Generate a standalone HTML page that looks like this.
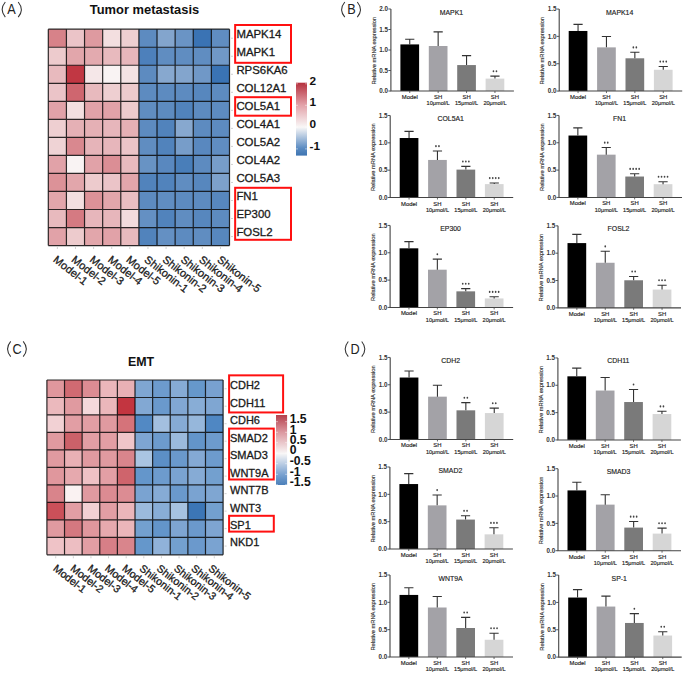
<!DOCTYPE html>
<html><head><meta charset="utf-8"><title>Figure</title>
<style>
html,body{margin:0;padding:0;background:#fff;}
body{width:685px;height:675px;overflow:hidden;}
svg{display:block;font-family:"Liberation Sans", sans-serif;}
</style></head><body>
<svg width="685" height="675" viewBox="0 0 685 675">
<rect width="685" height="675" fill="#fff"/>
<rect x="48.30" y="29.20" width="18.12" height="18.03" fill="#d78289"/>
<rect x="66.42" y="29.20" width="18.12" height="18.03" fill="#ebc4c8"/>
<rect x="84.54" y="29.20" width="18.12" height="18.03" fill="#de9aa0"/>
<rect x="102.66" y="29.20" width="18.12" height="18.03" fill="#f3dfe0"/>
<rect x="120.78" y="29.20" width="18.12" height="18.03" fill="#eecfd1"/>
<rect x="138.90" y="29.20" width="18.12" height="18.03" fill="#5d8bc0"/>
<rect x="157.02" y="29.20" width="18.12" height="18.03" fill="#83a5cd"/>
<rect x="175.14" y="29.20" width="18.12" height="18.03" fill="#6a94c5"/>
<rect x="193.26" y="29.20" width="18.12" height="18.03" fill="#3a73b4"/>
<rect x="211.38" y="29.20" width="18.12" height="18.03" fill="#608dc1"/>
<rect x="48.30" y="47.23" width="18.12" height="18.03" fill="#edcbcd"/>
<rect x="66.42" y="47.23" width="18.12" height="18.03" fill="#e2a6ab"/>
<rect x="84.54" y="47.23" width="18.12" height="18.03" fill="#e3aaaf"/>
<rect x="102.66" y="47.23" width="18.12" height="18.03" fill="#e8babe"/>
<rect x="120.78" y="47.23" width="18.12" height="18.03" fill="#e7b6bb"/>
<rect x="138.90" y="47.23" width="18.12" height="18.03" fill="#4d80bb"/>
<rect x="157.02" y="47.23" width="18.12" height="18.03" fill="#608dc1"/>
<rect x="175.14" y="47.23" width="18.12" height="18.03" fill="#608dc1"/>
<rect x="193.26" y="47.23" width="18.12" height="18.03" fill="#608dc1"/>
<rect x="211.38" y="47.23" width="18.12" height="18.03" fill="#7098c7"/>
<rect x="48.30" y="65.26" width="18.12" height="18.03" fill="#e8babe"/>
<rect x="66.42" y="65.26" width="18.12" height="18.03" fill="#c13743"/>
<rect x="84.54" y="65.26" width="18.12" height="18.03" fill="#f5e7e8"/>
<rect x="102.66" y="65.26" width="18.12" height="18.03" fill="#f9f3f3"/>
<rect x="120.78" y="65.26" width="18.12" height="18.03" fill="#f4e3e4"/>
<rect x="138.90" y="65.26" width="18.12" height="18.03" fill="#5d8bc0"/>
<rect x="157.02" y="65.26" width="18.12" height="18.03" fill="#87a8cf"/>
<rect x="175.14" y="65.26" width="18.12" height="18.03" fill="#83a5cd"/>
<rect x="193.26" y="65.26" width="18.12" height="18.03" fill="#7098c7"/>
<rect x="211.38" y="65.26" width="18.12" height="18.03" fill="#3a73b4"/>
<rect x="48.30" y="83.29" width="18.12" height="18.03" fill="#ebc4c8"/>
<rect x="66.42" y="83.29" width="18.12" height="18.03" fill="#cf666f"/>
<rect x="84.54" y="83.29" width="18.12" height="18.03" fill="#e8babe"/>
<rect x="102.66" y="83.29" width="18.12" height="18.03" fill="#eecfd1"/>
<rect x="120.78" y="83.29" width="18.12" height="18.03" fill="#edcbcd"/>
<rect x="138.90" y="83.29" width="18.12" height="18.03" fill="#5d8bc0"/>
<rect x="157.02" y="83.29" width="18.12" height="18.03" fill="#5d8bc0"/>
<rect x="175.14" y="83.29" width="18.12" height="18.03" fill="#5d8bc0"/>
<rect x="193.26" y="83.29" width="18.12" height="18.03" fill="#5787be"/>
<rect x="211.38" y="83.29" width="18.12" height="18.03" fill="#5d8bc0"/>
<rect x="48.30" y="101.32" width="18.12" height="18.03" fill="#e1a2a8"/>
<rect x="66.42" y="101.32" width="18.12" height="18.03" fill="#f3dfe0"/>
<rect x="84.54" y="101.32" width="18.12" height="18.03" fill="#e1a2a8"/>
<rect x="102.66" y="101.32" width="18.12" height="18.03" fill="#e1a2a8"/>
<rect x="120.78" y="101.32" width="18.12" height="18.03" fill="#edcbcd"/>
<rect x="138.90" y="101.32" width="18.12" height="18.03" fill="#608dc1"/>
<rect x="157.02" y="101.32" width="18.12" height="18.03" fill="#5d8bc0"/>
<rect x="175.14" y="101.32" width="18.12" height="18.03" fill="#5183bc"/>
<rect x="193.26" y="101.32" width="18.12" height="18.03" fill="#5d8bc0"/>
<rect x="211.38" y="101.32" width="18.12" height="18.03" fill="#5d8bc0"/>
<rect x="48.30" y="119.35" width="18.12" height="18.03" fill="#eecfd1"/>
<rect x="66.42" y="119.35" width="18.12" height="18.03" fill="#e5b0b5"/>
<rect x="84.54" y="119.35" width="18.12" height="18.03" fill="#e5b0b5"/>
<rect x="102.66" y="119.35" width="18.12" height="18.03" fill="#e7b6bb"/>
<rect x="120.78" y="119.35" width="18.12" height="18.03" fill="#e5b0b5"/>
<rect x="138.90" y="119.35" width="18.12" height="18.03" fill="#5d8bc0"/>
<rect x="157.02" y="119.35" width="18.12" height="18.03" fill="#5183bc"/>
<rect x="175.14" y="119.35" width="18.12" height="18.03" fill="#87a8cf"/>
<rect x="193.26" y="119.35" width="18.12" height="18.03" fill="#5d8bc0"/>
<rect x="211.38" y="119.35" width="18.12" height="18.03" fill="#5d8bc0"/>
<rect x="48.30" y="137.38" width="18.12" height="18.03" fill="#efd3d5"/>
<rect x="66.42" y="137.38" width="18.12" height="18.03" fill="#d9888f"/>
<rect x="84.54" y="137.38" width="18.12" height="18.03" fill="#e6b4b9"/>
<rect x="102.66" y="137.38" width="18.12" height="18.03" fill="#e7b6bb"/>
<rect x="120.78" y="137.38" width="18.12" height="18.03" fill="#ebc4c8"/>
<rect x="138.90" y="137.38" width="18.12" height="18.03" fill="#608dc1"/>
<rect x="157.02" y="137.38" width="18.12" height="18.03" fill="#5183bc"/>
<rect x="175.14" y="137.38" width="18.12" height="18.03" fill="#779dc9"/>
<rect x="193.26" y="137.38" width="18.12" height="18.03" fill="#5988bf"/>
<rect x="211.38" y="137.38" width="18.12" height="18.03" fill="#608dc1"/>
<rect x="48.30" y="155.41" width="18.12" height="18.03" fill="#e1a2a8"/>
<rect x="66.42" y="155.41" width="18.12" height="18.03" fill="#f9f3f3"/>
<rect x="84.54" y="155.41" width="18.12" height="18.03" fill="#e1a2a8"/>
<rect x="102.66" y="155.41" width="18.12" height="18.03" fill="#db8e95"/>
<rect x="120.78" y="155.41" width="18.12" height="18.03" fill="#e8babe"/>
<rect x="138.90" y="155.41" width="18.12" height="18.03" fill="#6893c4"/>
<rect x="157.02" y="155.41" width="18.12" height="18.03" fill="#5988bf"/>
<rect x="175.14" y="155.41" width="18.12" height="18.03" fill="#497eb9"/>
<rect x="193.26" y="155.41" width="18.12" height="18.03" fill="#5d8bc0"/>
<rect x="211.38" y="155.41" width="18.12" height="18.03" fill="#779dc9"/>
<rect x="48.30" y="173.44" width="18.12" height="18.03" fill="#dc9298"/>
<rect x="66.42" y="173.44" width="18.12" height="18.03" fill="#e2a6ab"/>
<rect x="84.54" y="173.44" width="18.12" height="18.03" fill="#edcbcd"/>
<rect x="102.66" y="173.44" width="18.12" height="18.03" fill="#ebc4c8"/>
<rect x="120.78" y="173.44" width="18.12" height="18.03" fill="#e2a6ab"/>
<rect x="138.90" y="173.44" width="18.12" height="18.03" fill="#5183bc"/>
<rect x="157.02" y="173.44" width="18.12" height="18.03" fill="#5183bc"/>
<rect x="175.14" y="173.44" width="18.12" height="18.03" fill="#608dc1"/>
<rect x="193.26" y="173.44" width="18.12" height="18.03" fill="#5787be"/>
<rect x="211.38" y="173.44" width="18.12" height="18.03" fill="#7da1cb"/>
<rect x="48.30" y="191.47" width="18.12" height="18.03" fill="#e2a6ab"/>
<rect x="66.42" y="191.47" width="18.12" height="18.03" fill="#f3dfe0"/>
<rect x="84.54" y="191.47" width="18.12" height="18.03" fill="#dc9298"/>
<rect x="102.66" y="191.47" width="18.12" height="18.03" fill="#e2a6ab"/>
<rect x="120.78" y="191.47" width="18.12" height="18.03" fill="#e9bec2"/>
<rect x="138.90" y="191.47" width="18.12" height="18.03" fill="#5d8bc0"/>
<rect x="157.02" y="191.47" width="18.12" height="18.03" fill="#608dc1"/>
<rect x="175.14" y="191.47" width="18.12" height="18.03" fill="#5d8bc0"/>
<rect x="193.26" y="191.47" width="18.12" height="18.03" fill="#5d8bc0"/>
<rect x="211.38" y="191.47" width="18.12" height="18.03" fill="#5787be"/>
<rect x="48.30" y="209.50" width="18.12" height="18.03" fill="#e8babe"/>
<rect x="66.42" y="209.50" width="18.12" height="18.03" fill="#d57a82"/>
<rect x="84.54" y="209.50" width="18.12" height="18.03" fill="#e7b6bb"/>
<rect x="102.66" y="209.50" width="18.12" height="18.03" fill="#e7b6bb"/>
<rect x="120.78" y="209.50" width="18.12" height="18.03" fill="#f2dbdd"/>
<rect x="138.90" y="209.50" width="18.12" height="18.03" fill="#6490c3"/>
<rect x="157.02" y="209.50" width="18.12" height="18.03" fill="#5183bc"/>
<rect x="175.14" y="209.50" width="18.12" height="18.03" fill="#608dc1"/>
<rect x="193.26" y="209.50" width="18.12" height="18.03" fill="#5787be"/>
<rect x="211.38" y="209.50" width="18.12" height="18.03" fill="#5d8bc0"/>
<rect x="48.30" y="227.53" width="18.12" height="18.03" fill="#e1a2a8"/>
<rect x="66.42" y="227.53" width="18.12" height="18.03" fill="#edcbcd"/>
<rect x="84.54" y="227.53" width="18.12" height="18.03" fill="#e2a6ab"/>
<rect x="102.66" y="227.53" width="18.12" height="18.03" fill="#e1a2a8"/>
<rect x="120.78" y="227.53" width="18.12" height="18.03" fill="#e8babe"/>
<rect x="138.90" y="227.53" width="18.12" height="18.03" fill="#5183bc"/>
<rect x="157.02" y="227.53" width="18.12" height="18.03" fill="#6490c3"/>
<rect x="175.14" y="227.53" width="18.12" height="18.03" fill="#5d8bc0"/>
<rect x="193.26" y="227.53" width="18.12" height="18.03" fill="#608dc1"/>
<rect x="211.38" y="227.53" width="18.12" height="18.03" fill="#5787be"/>
<path d="M48.30 29.20V245.56M66.42 29.20V245.56M84.54 29.20V245.56M102.66 29.20V245.56M120.78 29.20V245.56M138.90 29.20V245.56M157.02 29.20V245.56M175.14 29.20V245.56M193.26 29.20V245.56M211.38 29.20V245.56M229.50 29.20V245.56M48.30 29.20H229.50M48.30 47.23H229.50M48.30 65.26H229.50M48.30 83.29H229.50M48.30 101.32H229.50M48.30 119.35H229.50M48.30 137.38H229.50M48.30 155.41H229.50M48.30 173.44H229.50M48.30 191.47H229.50M48.30 209.50H229.50M48.30 227.53H229.50M48.30 245.56H229.50" stroke="#000" stroke-opacity="0.82" stroke-width="1.2" fill="none"/>
<path d="M231.00 38.22H233.00M231.00 56.25H233.00M231.00 74.28H233.00M231.00 92.31H233.00M231.00 110.34H233.00M231.00 128.37H233.00M231.00 146.40H233.00M231.00 164.43H233.00M231.00 182.45H233.00M231.00 200.49H233.00M231.00 218.51H233.00M231.00 236.55H233.00M57.36 247.06V249.06M75.48 247.06V249.06M93.60 247.06V249.06M111.72 247.06V249.06M129.84 247.06V249.06M147.96 247.06V249.06M166.08 247.06V249.06M184.20 247.06V249.06M202.32 247.06V249.06M220.44 247.06V249.06" stroke="#bbb" stroke-width="0.7" fill="none"/>
<text x="236.40" y="37.82" font-size="11.40" fill="#1a1a1a" stroke="#1a1a1a" stroke-width="0.3">MAPK14</text>
<text x="236.40" y="55.85" font-size="11.40" fill="#1a1a1a" stroke="#1a1a1a" stroke-width="0.3">MAPK1</text>
<text x="236.40" y="73.88" font-size="11.40" fill="#1a1a1a" stroke="#1a1a1a" stroke-width="0.3">RPS6KA6</text>
<text x="236.40" y="91.91" font-size="11.40" fill="#1a1a1a" stroke="#1a1a1a" stroke-width="0.3">COL12A1</text>
<text x="236.40" y="109.94" font-size="11.40" fill="#1a1a1a" stroke="#1a1a1a" stroke-width="0.3">COL5A1</text>
<text x="236.40" y="127.97" font-size="11.40" fill="#1a1a1a" stroke="#1a1a1a" stroke-width="0.3">COL4A1</text>
<text x="236.40" y="146.00" font-size="11.40" fill="#1a1a1a" stroke="#1a1a1a" stroke-width="0.3">COL5A2</text>
<text x="236.40" y="164.03" font-size="11.40" fill="#1a1a1a" stroke="#1a1a1a" stroke-width="0.3">COL4A2</text>
<text x="236.40" y="182.05" font-size="11.40" fill="#1a1a1a" stroke="#1a1a1a" stroke-width="0.3">COL5A3</text>
<text x="236.40" y="200.09" font-size="11.40" fill="#1a1a1a" stroke="#1a1a1a" stroke-width="0.3">FN1</text>
<text x="236.40" y="218.11" font-size="11.40" fill="#1a1a1a" stroke="#1a1a1a" stroke-width="0.3">EP300</text>
<text x="236.40" y="236.15" font-size="11.40" fill="#1a1a1a" stroke="#1a1a1a" stroke-width="0.3">FOSL2</text>
<text x="0" y="0" font-size="11.00" fill="#1a1a1a" stroke="#1a1a1a" stroke-width="0.3" transform="translate(52.60 261.00) rotate(38)">Model-1</text>
<text x="0" y="0" font-size="11.00" fill="#1a1a1a" stroke="#1a1a1a" stroke-width="0.3" transform="translate(70.80 261.00) rotate(38)">Model-2</text>
<text x="0" y="0" font-size="11.00" fill="#1a1a1a" stroke="#1a1a1a" stroke-width="0.3" transform="translate(89.00 261.00) rotate(38)">Model-3</text>
<text x="0" y="0" font-size="11.00" fill="#1a1a1a" stroke="#1a1a1a" stroke-width="0.3" transform="translate(107.20 261.00) rotate(38)">Model-4</text>
<text x="0" y="0" font-size="11.00" fill="#1a1a1a" stroke="#1a1a1a" stroke-width="0.3" transform="translate(125.40 261.00) rotate(38)">Model-5</text>
<text x="0" y="0" font-size="11.00" fill="#1a1a1a" stroke="#1a1a1a" stroke-width="0.3" transform="translate(143.60 261.00) rotate(38)">Shikonin-1</text>
<text x="0" y="0" font-size="11.00" fill="#1a1a1a" stroke="#1a1a1a" stroke-width="0.3" transform="translate(161.80 261.00) rotate(38)">Shikonin-2</text>
<text x="0" y="0" font-size="11.00" fill="#1a1a1a" stroke="#1a1a1a" stroke-width="0.3" transform="translate(180.00 261.00) rotate(38)">Shikonin-3</text>
<text x="0" y="0" font-size="11.00" fill="#1a1a1a" stroke="#1a1a1a" stroke-width="0.3" transform="translate(198.20 261.00) rotate(38)">Shikonin-4</text>
<text x="0" y="0" font-size="11.00" fill="#1a1a1a" stroke="#1a1a1a" stroke-width="0.3" transform="translate(216.40 261.00) rotate(38)">Shikonin-5</text>
<text x="89.80" y="14.40" font-size="12.90" font-weight="bold" fill="#111">Tumor metastasis</text>
<rect x="235.15" y="25.00" width="55.85" height="37.80" fill="none" stroke="#ff1010" stroke-width="2"/>
<rect x="235.15" y="97.20" width="55.85" height="18.50" fill="none" stroke="#ff1010" stroke-width="2"/>
<rect x="235.15" y="187.80" width="55.85" height="52.00" fill="none" stroke="#ff1010" stroke-width="2"/>
<defs><linearGradient id="g82" x1="0" y1="0" x2="0" y2="1">
<stop offset="0.000" stop-color="#b5303d"/>
<stop offset="0.300" stop-color="#e2a0a7"/>
<stop offset="0.610" stop-color="#f9f7f7"/>
<stop offset="0.900" stop-color="#5a8bc2"/>
<stop offset="1.000" stop-color="#3e74b1"/>
</linearGradient></defs>
<rect x="296.00" y="82.70" width="11.00" height="72.90" fill="url(#g82)"/>
<path d="M296.00 83.80H298.00 M305.00 83.80H307.00M296.00 105.30H298.00 M305.00 105.30H307.00M296.00 127.10H298.00 M305.00 127.10H307.00M296.00 148.90H298.00 M305.00 148.90H307.00" stroke="#fff" stroke-width="0.6" fill="none" opacity="0.8"/>
<text x="309.60" y="84.80" font-size="11.80" font-weight="bold" fill="#111">2</text>
<text x="309.60" y="106.30" font-size="11.80" font-weight="bold" fill="#111">1</text>
<text x="309.60" y="128.10" font-size="11.80" font-weight="bold" fill="#111">0</text>
<text x="309.60" y="149.90" font-size="11.80" font-weight="bold" fill="#111">-1</text>
<rect x="46.90" y="380.00" width="17.62" height="17.48" fill="#e0979d"/>
<rect x="64.52" y="380.00" width="17.62" height="17.48" fill="#d06a72"/>
<rect x="82.14" y="380.00" width="17.62" height="17.48" fill="#dc8c93"/>
<rect x="99.76" y="380.00" width="17.62" height="17.48" fill="#ebb6bb"/>
<rect x="117.38" y="380.00" width="17.62" height="17.48" fill="#e8b0b5"/>
<rect x="135.00" y="380.00" width="17.62" height="17.48" fill="#7fa6d2"/>
<rect x="152.62" y="380.00" width="17.62" height="17.48" fill="#6d9bcd"/>
<rect x="170.24" y="380.00" width="17.62" height="17.48" fill="#86abd5"/>
<rect x="187.86" y="380.00" width="17.62" height="17.48" fill="#6698cb"/>
<rect x="205.48" y="380.00" width="17.62" height="17.48" fill="#78a1d0"/>
<rect x="46.90" y="397.48" width="17.62" height="17.48" fill="#ebb9bd"/>
<rect x="64.52" y="397.48" width="17.62" height="17.48" fill="#e09aa0"/>
<rect x="82.14" y="397.48" width="17.62" height="17.48" fill="#f4d8db"/>
<rect x="99.76" y="397.48" width="17.62" height="17.48" fill="#ebb7bb"/>
<rect x="117.38" y="397.48" width="17.62" height="17.48" fill="#c33540"/>
<rect x="135.00" y="397.48" width="17.62" height="17.48" fill="#82a8d3"/>
<rect x="152.62" y="397.48" width="17.62" height="17.48" fill="#6a99cc"/>
<rect x="170.24" y="397.48" width="17.62" height="17.48" fill="#81a7d3"/>
<rect x="187.86" y="397.48" width="17.62" height="17.48" fill="#88add6"/>
<rect x="205.48" y="397.48" width="17.62" height="17.48" fill="#7fa6d2"/>
<rect x="46.90" y="414.96" width="17.62" height="17.48" fill="#f2d1d4"/>
<rect x="64.52" y="414.96" width="17.62" height="17.48" fill="#e29ea4"/>
<rect x="82.14" y="414.96" width="17.62" height="17.48" fill="#e29ea4"/>
<rect x="99.76" y="414.96" width="17.62" height="17.48" fill="#e09aa0"/>
<rect x="117.38" y="414.96" width="17.62" height="17.48" fill="#d5737a"/>
<rect x="135.00" y="414.96" width="17.62" height="17.48" fill="#5289c4"/>
<rect x="152.62" y="414.96" width="17.62" height="17.48" fill="#a3bfdf"/>
<rect x="170.24" y="414.96" width="17.62" height="17.48" fill="#86abd5"/>
<rect x="187.86" y="414.96" width="17.62" height="17.48" fill="#96b7db"/>
<rect x="205.48" y="414.96" width="17.62" height="17.48" fill="#4f87c3"/>
<rect x="46.90" y="432.44" width="17.62" height="17.48" fill="#e09aa0"/>
<rect x="64.52" y="432.44" width="17.62" height="17.48" fill="#cc6169"/>
<rect x="82.14" y="432.44" width="17.62" height="17.48" fill="#e29ea4"/>
<rect x="99.76" y="432.44" width="17.62" height="17.48" fill="#e29ea4"/>
<rect x="117.38" y="432.44" width="17.62" height="17.48" fill="#efc5c9"/>
<rect x="135.00" y="432.44" width="17.62" height="17.48" fill="#7ea5d2"/>
<rect x="152.62" y="432.44" width="17.62" height="17.48" fill="#6d9bcd"/>
<rect x="170.24" y="432.44" width="17.62" height="17.48" fill="#9bbadc"/>
<rect x="187.86" y="432.44" width="17.62" height="17.48" fill="#6395ca"/>
<rect x="205.48" y="432.44" width="17.62" height="17.48" fill="#6d9bcd"/>
<rect x="46.90" y="449.92" width="17.62" height="17.48" fill="#e09aa0"/>
<rect x="64.52" y="449.92" width="17.62" height="17.48" fill="#e9b0b5"/>
<rect x="82.14" y="449.92" width="17.62" height="17.48" fill="#e09aa0"/>
<rect x="99.76" y="449.92" width="17.62" height="17.48" fill="#e09aa0"/>
<rect x="117.38" y="449.92" width="17.62" height="17.48" fill="#d9858c"/>
<rect x="135.00" y="449.92" width="17.62" height="17.48" fill="#aac5e2"/>
<rect x="152.62" y="449.92" width="17.62" height="17.48" fill="#5c8fc6"/>
<rect x="170.24" y="449.92" width="17.62" height="17.48" fill="#6a99cc"/>
<rect x="187.86" y="449.92" width="17.62" height="17.48" fill="#84a9d4"/>
<rect x="205.48" y="449.92" width="17.62" height="17.48" fill="#6d9bcd"/>
<rect x="46.90" y="467.40" width="17.62" height="17.48" fill="#e0979d"/>
<rect x="64.52" y="467.40" width="17.62" height="17.48" fill="#e6a9ae"/>
<rect x="82.14" y="467.40" width="17.62" height="17.48" fill="#efc1c5"/>
<rect x="99.76" y="467.40" width="17.62" height="17.48" fill="#e39fa5"/>
<rect x="117.38" y="467.40" width="17.62" height="17.48" fill="#cf646c"/>
<rect x="135.00" y="467.40" width="17.62" height="17.48" fill="#6496cb"/>
<rect x="152.62" y="467.40" width="17.62" height="17.48" fill="#6d9bcd"/>
<rect x="170.24" y="467.40" width="17.62" height="17.48" fill="#7aa3d1"/>
<rect x="187.86" y="467.40" width="17.62" height="17.48" fill="#86abd5"/>
<rect x="205.48" y="467.40" width="17.62" height="17.48" fill="#73a0cf"/>
<rect x="46.90" y="484.88" width="17.62" height="17.48" fill="#d9848b"/>
<rect x="64.52" y="484.88" width="17.62" height="17.48" fill="#faf2f2"/>
<rect x="82.14" y="484.88" width="17.62" height="17.48" fill="#e09aa0"/>
<rect x="99.76" y="484.88" width="17.62" height="17.48" fill="#dc8b92"/>
<rect x="117.38" y="484.88" width="17.62" height="17.48" fill="#dc8c93"/>
<rect x="135.00" y="484.88" width="17.62" height="17.48" fill="#7aa3d1"/>
<rect x="152.62" y="484.88" width="17.62" height="17.48" fill="#86abd5"/>
<rect x="170.24" y="484.88" width="17.62" height="17.48" fill="#6a99cc"/>
<rect x="187.86" y="484.88" width="17.62" height="17.48" fill="#7aa3d1"/>
<rect x="205.48" y="484.88" width="17.62" height="17.48" fill="#7fa6d2"/>
<rect x="46.90" y="502.36" width="17.62" height="17.48" fill="#cb5059"/>
<rect x="64.52" y="502.36" width="17.62" height="17.48" fill="#e29ea4"/>
<rect x="82.14" y="502.36" width="17.62" height="17.48" fill="#f2d0d3"/>
<rect x="99.76" y="502.36" width="17.62" height="17.48" fill="#e29ea4"/>
<rect x="117.38" y="502.36" width="17.62" height="17.48" fill="#ebb6ba"/>
<rect x="135.00" y="502.36" width="17.62" height="17.48" fill="#9bbadc"/>
<rect x="152.62" y="502.36" width="17.62" height="17.48" fill="#88add6"/>
<rect x="170.24" y="502.36" width="17.62" height="17.48" fill="#a6c2e0"/>
<rect x="187.86" y="502.36" width="17.62" height="17.48" fill="#3c76b6"/>
<rect x="205.48" y="502.36" width="17.62" height="17.48" fill="#73a0cf"/>
<rect x="46.90" y="519.84" width="17.62" height="17.48" fill="#e09aa0"/>
<rect x="64.52" y="519.84" width="17.62" height="17.48" fill="#d47880"/>
<rect x="82.14" y="519.84" width="17.62" height="17.48" fill="#e0979d"/>
<rect x="99.76" y="519.84" width="17.62" height="17.48" fill="#e6a9ae"/>
<rect x="117.38" y="519.84" width="17.62" height="17.48" fill="#ebb6ba"/>
<rect x="135.00" y="519.84" width="17.62" height="17.48" fill="#73a0cf"/>
<rect x="152.62" y="519.84" width="17.62" height="17.48" fill="#6395ca"/>
<rect x="170.24" y="519.84" width="17.62" height="17.48" fill="#7ea5d2"/>
<rect x="187.86" y="519.84" width="17.62" height="17.48" fill="#6b99cc"/>
<rect x="205.48" y="519.84" width="17.62" height="17.48" fill="#7ea5d2"/>
<rect x="46.90" y="537.32" width="17.62" height="17.48" fill="#efc3c7"/>
<rect x="64.52" y="537.32" width="17.62" height="17.48" fill="#edbec2"/>
<rect x="82.14" y="537.32" width="17.62" height="17.48" fill="#e29ea4"/>
<rect x="99.76" y="537.32" width="17.62" height="17.48" fill="#d77f87"/>
<rect x="117.38" y="537.32" width="17.62" height="17.48" fill="#d9858c"/>
<rect x="135.00" y="537.32" width="17.62" height="17.48" fill="#6597cb"/>
<rect x="152.62" y="537.32" width="17.62" height="17.48" fill="#90b2d9"/>
<rect x="170.24" y="537.32" width="17.62" height="17.48" fill="#73a0cf"/>
<rect x="187.86" y="537.32" width="17.62" height="17.48" fill="#6b99cc"/>
<rect x="205.48" y="537.32" width="17.62" height="17.48" fill="#7aa3d1"/>
<path d="M46.90 380.00V554.80M64.52 380.00V554.80M82.14 380.00V554.80M99.76 380.00V554.80M117.38 380.00V554.80M135.00 380.00V554.80M152.62 380.00V554.80M170.24 380.00V554.80M187.86 380.00V554.80M205.48 380.00V554.80M223.10 380.00V554.80M46.90 380.00H223.10M46.90 397.48H223.10M46.90 414.96H223.10M46.90 432.44H223.10M46.90 449.92H223.10M46.90 467.40H223.10M46.90 484.88H223.10M46.90 502.36H223.10M46.90 519.84H223.10M46.90 537.32H223.10M46.90 554.80H223.10" stroke="#000" stroke-opacity="0.82" stroke-width="1.2" fill="none"/>
<path d="M224.60 388.74H226.60M224.60 406.22H226.60M224.60 423.70H226.60M224.60 441.18H226.60M224.60 458.66H226.60M224.60 476.14H226.60M224.60 493.62H226.60M224.60 511.10H226.60M224.60 528.58H226.60M224.60 546.06H226.60M55.71 556.30V558.30M73.33 556.30V558.30M90.95 556.30V558.30M108.57 556.30V558.30M126.19 556.30V558.30M143.81 556.30V558.30M161.43 556.30V558.30M179.05 556.30V558.30M196.67 556.30V558.30M214.29 556.30V558.30" stroke="#bbb" stroke-width="0.7" fill="none"/>
<text x="230.00" y="389.14" font-size="11.00" fill="#1a1a1a" stroke="#1a1a1a" stroke-width="0.3">CDH2</text>
<text x="230.00" y="406.62" font-size="11.00" fill="#1a1a1a" stroke="#1a1a1a" stroke-width="0.3">CDH11</text>
<text x="230.00" y="424.10" font-size="11.00" fill="#1a1a1a" stroke="#1a1a1a" stroke-width="0.3">CDH6</text>
<text x="230.00" y="441.58" font-size="11.00" fill="#1a1a1a" stroke="#1a1a1a" stroke-width="0.3">SMAD2</text>
<text x="230.00" y="459.06" font-size="11.00" fill="#1a1a1a" stroke="#1a1a1a" stroke-width="0.3">SMAD3</text>
<text x="230.00" y="476.54" font-size="11.00" fill="#1a1a1a" stroke="#1a1a1a" stroke-width="0.3">WNT9A</text>
<text x="230.00" y="494.02" font-size="11.00" fill="#1a1a1a" stroke="#1a1a1a" stroke-width="0.3">WNT7B</text>
<text x="230.00" y="511.50" font-size="11.00" fill="#1a1a1a" stroke="#1a1a1a" stroke-width="0.3">WNT3</text>
<text x="230.00" y="528.98" font-size="11.00" fill="#1a1a1a" stroke="#1a1a1a" stroke-width="0.3">SP1</text>
<text x="230.00" y="546.46" font-size="11.00" fill="#1a1a1a" stroke="#1a1a1a" stroke-width="0.3">NKD1</text>
<text x="0" y="0" font-size="10.60" fill="#1a1a1a" stroke="#1a1a1a" stroke-width="0.3" transform="translate(52.45 569.80) rotate(38)">Model-1</text>
<text x="0" y="0" font-size="10.60" fill="#1a1a1a" stroke="#1a1a1a" stroke-width="0.3" transform="translate(69.71 569.80) rotate(38)">Model-2</text>
<text x="0" y="0" font-size="10.60" fill="#1a1a1a" stroke="#1a1a1a" stroke-width="0.3" transform="translate(86.97 569.80) rotate(38)">Model-3</text>
<text x="0" y="0" font-size="10.60" fill="#1a1a1a" stroke="#1a1a1a" stroke-width="0.3" transform="translate(104.23 569.80) rotate(38)">Model-4</text>
<text x="0" y="0" font-size="10.60" fill="#1a1a1a" stroke="#1a1a1a" stroke-width="0.3" transform="translate(121.49 569.80) rotate(38)">Model-5</text>
<text x="0" y="0" font-size="10.60" fill="#1a1a1a" stroke="#1a1a1a" stroke-width="0.3" transform="translate(138.76 569.80) rotate(38)">Shikonin-1</text>
<text x="0" y="0" font-size="10.60" fill="#1a1a1a" stroke="#1a1a1a" stroke-width="0.3" transform="translate(156.02 569.80) rotate(38)">Shikonin-2</text>
<text x="0" y="0" font-size="10.60" fill="#1a1a1a" stroke="#1a1a1a" stroke-width="0.3" transform="translate(173.28 569.80) rotate(38)">Shikonin-3</text>
<text x="0" y="0" font-size="10.60" fill="#1a1a1a" stroke="#1a1a1a" stroke-width="0.3" transform="translate(190.54 569.80) rotate(38)">Shikonin-4</text>
<text x="0" y="0" font-size="10.60" fill="#1a1a1a" stroke="#1a1a1a" stroke-width="0.3" transform="translate(207.80 569.80) rotate(38)">Shikonin-5</text>
<text x="128.00" y="366.20" font-size="12.40" font-weight="bold" fill="#111">EMT</text>
<rect x="229.10" y="375.35" width="54.00" height="37.10" fill="none" stroke="#ff1010" stroke-width="2"/>
<rect x="229.10" y="428.60" width="44.65" height="50.90" fill="none" stroke="#ff1010" stroke-width="2"/>
<rect x="229.10" y="515.80" width="44.70" height="15.80" fill="none" stroke="#ff1010" stroke-width="2"/>
<defs><linearGradient id="g415" x1="0" y1="0" x2="0" y2="1">
<stop offset="0.000" stop-color="#b5404c"/>
<stop offset="0.250" stop-color="#dc9aa1"/>
<stop offset="0.550" stop-color="#f8f6f6"/>
<stop offset="0.850" stop-color="#7aa2d0"/>
<stop offset="1.000" stop-color="#4a7fb9"/>
</linearGradient></defs>
<rect x="276.00" y="415.00" width="11.10" height="70.00" fill="url(#g415)"/>
<path d="M276.00 421.70H278.00 M285.10 421.70H287.10M276.00 432.30H278.00 M285.10 432.30H287.10M276.00 442.70H278.00 M285.10 442.70H287.10M276.00 453.00H278.00 M285.10 453.00H287.10M276.00 463.70H278.00 M285.10 463.70H287.10M276.00 474.30H278.00 M285.10 474.30H287.10M276.00 484.70H278.00 M285.10 484.70H287.10" stroke="#fff" stroke-width="0.6" fill="none" opacity="0.8"/>
<text x="289.70" y="423.10" font-size="12.20" font-weight="bold" fill="#111">1.5</text>
<text x="289.70" y="433.70" font-size="12.20" font-weight="bold" fill="#111">1</text>
<text x="289.70" y="444.10" font-size="12.20" font-weight="bold" fill="#111">0.5</text>
<text x="289.70" y="454.40" font-size="12.20" font-weight="bold" fill="#111">0</text>
<text x="289.70" y="465.10" font-size="12.20" font-weight="bold" fill="#111">-0.5</text>
<text x="289.70" y="475.70" font-size="12.20" font-weight="bold" fill="#111">-1</text>
<text x="289.70" y="486.10" font-size="12.20" font-weight="bold" fill="#111">-1.5</text>
<text x="451.40" y="14.50" font-size="6.9" fill="#222" stroke="#222" stroke-width="0.15" text-anchor="middle">MAPK1</text>
<rect x="400.40" y="44.41" width="18.70" height="46.59" fill="#000000"/>
<path d="M409.75 44.41V39.24M405.15 39.24H414.35" stroke="#333" stroke-width="1.1" fill="none"/>
<text x="409.75" y="99.00" font-size="5.9" fill="#222" stroke="#222" stroke-width="0.15" text-anchor="middle">Model</text>
<path d="M409.75 91.00V93.00" stroke="#444" stroke-width="0.8"/>
<rect x="428.80" y="46.01" width="18.70" height="44.99" fill="#a3a2a7"/>
<path d="M438.15 46.01V31.86M433.55 31.86H442.75" stroke="#333" stroke-width="1.1" fill="none"/>
<text x="438.15" y="99.00" font-size="5.9" fill="#222" stroke="#222" stroke-width="0.15" text-anchor="middle">SH</text>
<text x="438.15" y="105.20" font-size="5.6" fill="#222" stroke="#222" stroke-width="0.15" text-anchor="middle">10μmol/L</text>
<path d="M438.15 91.00V93.00" stroke="#444" stroke-width="0.8"/>
<rect x="457.20" y="65.07" width="18.70" height="25.93" fill="#7a7a7a"/>
<path d="M466.55 65.07V55.64M461.95 55.64H471.15" stroke="#333" stroke-width="1.1" fill="none"/>
<text x="466.55" y="99.00" font-size="5.9" fill="#222" stroke="#222" stroke-width="0.15" text-anchor="middle">SH</text>
<text x="466.55" y="105.20" font-size="5.6" fill="#222" stroke="#222" stroke-width="0.15" text-anchor="middle">15μmol/L</text>
<path d="M466.55 91.00V93.00" stroke="#444" stroke-width="0.8"/>
<rect x="485.60" y="78.60" width="18.70" height="12.40" fill="#d6d6d6"/>
<path d="M494.95 78.60V76.14M490.35 76.14H499.55" stroke="#333" stroke-width="1.1" fill="none"/>
<ellipse cx="493.45" cy="71.24" rx="0.85" ry="1.05" fill="#444"/>
<ellipse cx="496.45" cy="71.24" rx="0.85" ry="1.05" fill="#444"/>
<text x="494.95" y="99.00" font-size="5.9" fill="#222" stroke="#222" stroke-width="0.15" text-anchor="middle">SH</text>
<text x="494.95" y="105.20" font-size="5.6" fill="#222" stroke="#222" stroke-width="0.15" text-anchor="middle">20μmol/L</text>
<path d="M494.95 91.00V93.00" stroke="#444" stroke-width="0.8"/>
<path d="M390.90 9.00V91.00H513.90" stroke="#444" stroke-width="1.1" fill="none"/>
<path d="M388.40 91.00H390.90" stroke="#444" stroke-width="0.9"/>
<text x="388.10" y="93.20" font-size="6.3" font-weight="bold" fill="#333" text-anchor="end">0.0</text>
<path d="M388.40 70.50H390.90" stroke="#444" stroke-width="0.9"/>
<text x="388.10" y="72.70" font-size="6.3" font-weight="bold" fill="#333" text-anchor="end">0.5</text>
<path d="M388.40 50.00H390.90" stroke="#444" stroke-width="0.9"/>
<text x="388.10" y="52.20" font-size="6.3" font-weight="bold" fill="#333" text-anchor="end">1.0</text>
<path d="M388.40 29.50H390.90" stroke="#444" stroke-width="0.9"/>
<text x="388.10" y="31.70" font-size="6.3" font-weight="bold" fill="#333" text-anchor="end">1.5</text>
<path d="M388.40 9.00H390.90" stroke="#444" stroke-width="0.9"/>
<text x="388.10" y="11.20" font-size="6.3" font-weight="bold" fill="#333" text-anchor="end">2.0</text>
<text x="0" y="0" font-size="5.7" fill="#333" stroke="#333" stroke-width="0.15" text-anchor="middle" transform="translate(375.90 50.70) rotate(-90)">Relative mRNA expression</text>
<text x="619.70" y="14.55" font-size="6.9" fill="#222" stroke="#222" stroke-width="0.15" text-anchor="middle">MAPK14</text>
<rect x="568.70" y="30.97" width="18.70" height="60.08" fill="#000000"/>
<path d="M578.05 30.97V24.41M573.45 24.41H582.65" stroke="#333" stroke-width="1.1" fill="none"/>
<text x="578.05" y="99.05" font-size="5.9" fill="#222" stroke="#222" stroke-width="0.15" text-anchor="middle">Model</text>
<path d="M578.05 91.05V93.05" stroke="#444" stroke-width="0.8"/>
<rect x="597.10" y="47.37" width="18.70" height="43.68" fill="#a3a2a7"/>
<path d="M606.45 47.37V36.43M601.85 36.43H611.05" stroke="#333" stroke-width="1.1" fill="none"/>
<text x="606.45" y="99.05" font-size="5.9" fill="#222" stroke="#222" stroke-width="0.15" text-anchor="middle">SH</text>
<text x="606.45" y="105.25" font-size="5.6" fill="#222" stroke="#222" stroke-width="0.15" text-anchor="middle">10μmol/L</text>
<path d="M606.45 91.05V93.05" stroke="#444" stroke-width="0.8"/>
<rect x="625.50" y="58.30" width="18.70" height="32.75" fill="#7a7a7a"/>
<path d="M634.85 58.30V52.29M630.25 52.29H639.45" stroke="#333" stroke-width="1.1" fill="none"/>
<ellipse cx="633.35" cy="47.39" rx="0.85" ry="1.05" fill="#444"/>
<ellipse cx="636.35" cy="47.39" rx="0.85" ry="1.05" fill="#444"/>
<text x="634.85" y="99.05" font-size="5.9" fill="#222" stroke="#222" stroke-width="0.15" text-anchor="middle">SH</text>
<text x="634.85" y="105.25" font-size="5.6" fill="#222" stroke="#222" stroke-width="0.15" text-anchor="middle">15μmol/L</text>
<path d="M634.85 91.05V93.05" stroke="#444" stroke-width="0.8"/>
<rect x="653.90" y="69.78" width="18.70" height="21.27" fill="#d6d6d6"/>
<path d="M663.25 69.78V66.50M658.65 66.50H667.85" stroke="#333" stroke-width="1.1" fill="none"/>
<ellipse cx="660.25" cy="61.60" rx="0.85" ry="1.05" fill="#444"/>
<ellipse cx="663.25" cy="61.60" rx="0.85" ry="1.05" fill="#444"/>
<ellipse cx="666.25" cy="61.60" rx="0.85" ry="1.05" fill="#444"/>
<text x="663.25" y="99.05" font-size="5.9" fill="#222" stroke="#222" stroke-width="0.15" text-anchor="middle">SH</text>
<text x="663.25" y="105.25" font-size="5.6" fill="#222" stroke="#222" stroke-width="0.15" text-anchor="middle">20μmol/L</text>
<path d="M663.25 91.05V93.05" stroke="#444" stroke-width="0.8"/>
<path d="M559.20 9.05V91.05H682.20" stroke="#444" stroke-width="1.1" fill="none"/>
<path d="M556.70 91.05H559.20" stroke="#444" stroke-width="0.9"/>
<text x="556.40" y="93.25" font-size="6.3" font-weight="bold" fill="#333" text-anchor="end">0.0</text>
<path d="M556.70 63.72H559.20" stroke="#444" stroke-width="0.9"/>
<text x="556.40" y="65.92" font-size="6.3" font-weight="bold" fill="#333" text-anchor="end">0.5</text>
<path d="M556.70 36.38H559.20" stroke="#444" stroke-width="0.9"/>
<text x="556.40" y="38.58" font-size="6.3" font-weight="bold" fill="#333" text-anchor="end">1.0</text>
<path d="M556.70 9.05H559.20" stroke="#444" stroke-width="0.9"/>
<text x="556.40" y="11.25" font-size="6.3" font-weight="bold" fill="#333" text-anchor="end">1.5</text>
<text x="0" y="0" font-size="5.7" fill="#333" stroke="#333" stroke-width="0.15" text-anchor="middle" transform="translate(544.20 50.75) rotate(-90)">Relative mRNA expression</text>
<text x="450.70" y="121.00" font-size="6.9" fill="#222" stroke="#222" stroke-width="0.15" text-anchor="middle">COL5A1</text>
<rect x="399.70" y="138.02" width="18.70" height="59.48" fill="#000000"/>
<path d="M409.05 138.02V131.35M404.45 131.35H413.65" stroke="#333" stroke-width="1.1" fill="none"/>
<text x="409.05" y="205.50" font-size="5.9" fill="#222" stroke="#222" stroke-width="0.15" text-anchor="middle">Model</text>
<path d="M409.05 197.50V199.50" stroke="#444" stroke-width="0.8"/>
<rect x="428.10" y="159.94" width="18.70" height="37.56" fill="#a3a2a7"/>
<path d="M437.45 159.94V151.03M432.85 151.03H442.05" stroke="#333" stroke-width="1.1" fill="none"/>
<ellipse cx="435.95" cy="146.13" rx="0.85" ry="1.05" fill="#444"/>
<ellipse cx="438.95" cy="146.13" rx="0.85" ry="1.05" fill="#444"/>
<text x="437.45" y="205.50" font-size="5.9" fill="#222" stroke="#222" stroke-width="0.15" text-anchor="middle">SH</text>
<text x="437.45" y="211.70" font-size="5.6" fill="#222" stroke="#222" stroke-width="0.15" text-anchor="middle">10μmol/L</text>
<path d="M437.45 197.50V199.50" stroke="#444" stroke-width="0.8"/>
<rect x="456.50" y="169.62" width="18.70" height="27.88" fill="#7a7a7a"/>
<path d="M465.85 169.62V166.34M461.25 166.34H470.45" stroke="#333" stroke-width="1.1" fill="none"/>
<ellipse cx="462.85" cy="161.44" rx="0.85" ry="1.05" fill="#444"/>
<ellipse cx="465.85" cy="161.44" rx="0.85" ry="1.05" fill="#444"/>
<ellipse cx="468.85" cy="161.44" rx="0.85" ry="1.05" fill="#444"/>
<text x="465.85" y="205.50" font-size="5.9" fill="#222" stroke="#222" stroke-width="0.15" text-anchor="middle">SH</text>
<text x="465.85" y="211.70" font-size="5.6" fill="#222" stroke="#222" stroke-width="0.15" text-anchor="middle">15μmol/L</text>
<path d="M465.85 197.50V199.50" stroke="#444" stroke-width="0.8"/>
<rect x="484.90" y="184.11" width="18.70" height="13.39" fill="#d6d6d6"/>
<path d="M494.25 184.11V183.01M489.65 183.01H498.85" stroke="#333" stroke-width="1.1" fill="none"/>
<ellipse cx="489.75" cy="178.11" rx="0.85" ry="1.05" fill="#444"/>
<ellipse cx="492.75" cy="178.11" rx="0.85" ry="1.05" fill="#444"/>
<ellipse cx="495.75" cy="178.11" rx="0.85" ry="1.05" fill="#444"/>
<ellipse cx="498.75" cy="178.11" rx="0.85" ry="1.05" fill="#444"/>
<text x="494.25" y="205.50" font-size="5.9" fill="#222" stroke="#222" stroke-width="0.15" text-anchor="middle">SH</text>
<text x="494.25" y="211.70" font-size="5.6" fill="#222" stroke="#222" stroke-width="0.15" text-anchor="middle">20μmol/L</text>
<path d="M494.25 197.50V199.50" stroke="#444" stroke-width="0.8"/>
<path d="M390.20 115.50V197.50H513.20" stroke="#444" stroke-width="1.1" fill="none"/>
<path d="M387.70 197.50H390.20" stroke="#444" stroke-width="0.9"/>
<text x="387.40" y="199.70" font-size="6.3" font-weight="bold" fill="#333" text-anchor="end">0.0</text>
<path d="M387.70 170.17H390.20" stroke="#444" stroke-width="0.9"/>
<text x="387.40" y="172.37" font-size="6.3" font-weight="bold" fill="#333" text-anchor="end">0.5</text>
<path d="M387.70 142.83H390.20" stroke="#444" stroke-width="0.9"/>
<text x="387.40" y="145.03" font-size="6.3" font-weight="bold" fill="#333" text-anchor="end">1.0</text>
<path d="M387.70 115.50H390.20" stroke="#444" stroke-width="0.9"/>
<text x="387.40" y="117.70" font-size="6.3" font-weight="bold" fill="#333" text-anchor="end">1.5</text>
<text x="0" y="0" font-size="5.7" fill="#333" stroke="#333" stroke-width="0.15" text-anchor="middle" transform="translate(375.20 157.20) rotate(-90)">Relative mRNA expression</text>
<text x="619.50" y="120.95" font-size="6.9" fill="#222" stroke="#222" stroke-width="0.15" text-anchor="middle">FN1</text>
<rect x="568.50" y="135.53" width="18.70" height="61.92" fill="#000000"/>
<path d="M577.85 135.53V127.87M573.25 127.87H582.45" stroke="#333" stroke-width="1.1" fill="none"/>
<text x="577.85" y="205.45" font-size="5.9" fill="#222" stroke="#222" stroke-width="0.15" text-anchor="middle">Model</text>
<path d="M577.85 197.45V199.45" stroke="#444" stroke-width="0.8"/>
<rect x="596.90" y="154.66" width="18.70" height="42.79" fill="#a3a2a7"/>
<path d="M606.25 154.66V147.55M601.65 147.55H610.85" stroke="#333" stroke-width="1.1" fill="none"/>
<ellipse cx="604.75" cy="142.65" rx="0.85" ry="1.05" fill="#444"/>
<ellipse cx="607.75" cy="142.65" rx="0.85" ry="1.05" fill="#444"/>
<text x="606.25" y="205.45" font-size="5.9" fill="#222" stroke="#222" stroke-width="0.15" text-anchor="middle">SH</text>
<text x="606.25" y="211.65" font-size="5.6" fill="#222" stroke="#222" stroke-width="0.15" text-anchor="middle">10μmol/L</text>
<path d="M606.25 197.45V199.45" stroke="#444" stroke-width="0.8"/>
<rect x="625.30" y="176.53" width="18.70" height="20.92" fill="#7a7a7a"/>
<path d="M634.65 176.53V173.79M630.05 173.79H639.25" stroke="#333" stroke-width="1.1" fill="none"/>
<ellipse cx="630.15" cy="168.89" rx="0.85" ry="1.05" fill="#444"/>
<ellipse cx="633.15" cy="168.89" rx="0.85" ry="1.05" fill="#444"/>
<ellipse cx="636.15" cy="168.89" rx="0.85" ry="1.05" fill="#444"/>
<ellipse cx="639.15" cy="168.89" rx="0.85" ry="1.05" fill="#444"/>
<text x="634.65" y="205.45" font-size="5.9" fill="#222" stroke="#222" stroke-width="0.15" text-anchor="middle">SH</text>
<text x="634.65" y="211.65" font-size="5.6" fill="#222" stroke="#222" stroke-width="0.15" text-anchor="middle">15μmol/L</text>
<path d="M634.65 197.45V199.45" stroke="#444" stroke-width="0.8"/>
<rect x="653.70" y="184.18" width="18.70" height="13.27" fill="#d6d6d6"/>
<path d="M663.05 184.18V181.72M658.45 181.72H667.65" stroke="#333" stroke-width="1.1" fill="none"/>
<ellipse cx="658.55" cy="176.82" rx="0.85" ry="1.05" fill="#444"/>
<ellipse cx="661.55" cy="176.82" rx="0.85" ry="1.05" fill="#444"/>
<ellipse cx="664.55" cy="176.82" rx="0.85" ry="1.05" fill="#444"/>
<ellipse cx="667.55" cy="176.82" rx="0.85" ry="1.05" fill="#444"/>
<text x="663.05" y="205.45" font-size="5.9" fill="#222" stroke="#222" stroke-width="0.15" text-anchor="middle">SH</text>
<text x="663.05" y="211.65" font-size="5.6" fill="#222" stroke="#222" stroke-width="0.15" text-anchor="middle">20μmol/L</text>
<path d="M663.05 197.45V199.45" stroke="#444" stroke-width="0.8"/>
<path d="M559.00 115.45V197.45H682.00" stroke="#444" stroke-width="1.1" fill="none"/>
<path d="M556.50 197.45H559.00" stroke="#444" stroke-width="0.9"/>
<text x="556.20" y="199.65" font-size="6.3" font-weight="bold" fill="#333" text-anchor="end">0.0</text>
<path d="M556.50 170.12H559.00" stroke="#444" stroke-width="0.9"/>
<text x="556.20" y="172.32" font-size="6.3" font-weight="bold" fill="#333" text-anchor="end">0.5</text>
<path d="M556.50 142.78H559.00" stroke="#444" stroke-width="0.9"/>
<text x="556.20" y="144.98" font-size="6.3" font-weight="bold" fill="#333" text-anchor="end">1.0</text>
<path d="M556.50 115.45H559.00" stroke="#444" stroke-width="0.9"/>
<text x="556.20" y="117.65" font-size="6.3" font-weight="bold" fill="#333" text-anchor="end">1.5</text>
<text x="0" y="0" font-size="5.7" fill="#333" stroke="#333" stroke-width="0.15" text-anchor="middle" transform="translate(544.00 157.15) rotate(-90)">Relative mRNA expression</text>
<text x="450.60" y="230.95" font-size="6.9" fill="#222" stroke="#222" stroke-width="0.15" text-anchor="middle">EP300</text>
<rect x="399.60" y="248.32" width="18.70" height="59.13" fill="#000000"/>
<path d="M408.95 248.32V241.60M404.35 241.60H413.55" stroke="#333" stroke-width="1.1" fill="none"/>
<text x="408.95" y="315.45" font-size="5.9" fill="#222" stroke="#222" stroke-width="0.15" text-anchor="middle">Model</text>
<path d="M408.95 307.45V309.45" stroke="#444" stroke-width="0.8"/>
<rect x="428.00" y="269.70" width="18.70" height="37.75" fill="#a3a2a7"/>
<path d="M437.35 269.70V259.09M432.75 259.09H441.95" stroke="#333" stroke-width="1.1" fill="none"/>
<ellipse cx="437.35" cy="254.19" rx="0.85" ry="1.05" fill="#444"/>
<text x="437.35" y="315.45" font-size="5.9" fill="#222" stroke="#222" stroke-width="0.15" text-anchor="middle">SH</text>
<text x="437.35" y="321.65" font-size="5.6" fill="#222" stroke="#222" stroke-width="0.15" text-anchor="middle">10μmol/L</text>
<path d="M437.35 307.45V309.45" stroke="#444" stroke-width="0.8"/>
<rect x="456.40" y="291.35" width="18.70" height="16.10" fill="#7a7a7a"/>
<path d="M465.75 291.35V288.61M461.15 288.61H470.35" stroke="#333" stroke-width="1.1" fill="none"/>
<ellipse cx="462.75" cy="283.71" rx="0.85" ry="1.05" fill="#444"/>
<ellipse cx="465.75" cy="283.71" rx="0.85" ry="1.05" fill="#444"/>
<ellipse cx="468.75" cy="283.71" rx="0.85" ry="1.05" fill="#444"/>
<text x="465.75" y="315.45" font-size="5.9" fill="#222" stroke="#222" stroke-width="0.15" text-anchor="middle">SH</text>
<text x="465.75" y="321.65" font-size="5.6" fill="#222" stroke="#222" stroke-width="0.15" text-anchor="middle">15μmol/L</text>
<path d="M465.75 307.45V309.45" stroke="#444" stroke-width="0.8"/>
<rect x="484.80" y="298.45" width="18.70" height="9.00" fill="#d6d6d6"/>
<path d="M494.15 298.45V296.81M489.55 296.81H498.75" stroke="#333" stroke-width="1.1" fill="none"/>
<ellipse cx="489.65" cy="291.91" rx="0.85" ry="1.05" fill="#444"/>
<ellipse cx="492.65" cy="291.91" rx="0.85" ry="1.05" fill="#444"/>
<ellipse cx="495.65" cy="291.91" rx="0.85" ry="1.05" fill="#444"/>
<ellipse cx="498.65" cy="291.91" rx="0.85" ry="1.05" fill="#444"/>
<text x="494.15" y="315.45" font-size="5.9" fill="#222" stroke="#222" stroke-width="0.15" text-anchor="middle">SH</text>
<text x="494.15" y="321.65" font-size="5.6" fill="#222" stroke="#222" stroke-width="0.15" text-anchor="middle">20μmol/L</text>
<path d="M494.15 307.45V309.45" stroke="#444" stroke-width="0.8"/>
<path d="M390.10 225.45V307.45H513.10" stroke="#444" stroke-width="1.1" fill="none"/>
<path d="M387.60 307.45H390.10" stroke="#444" stroke-width="0.9"/>
<text x="387.30" y="309.65" font-size="6.3" font-weight="bold" fill="#333" text-anchor="end">0.0</text>
<path d="M387.60 280.12H390.10" stroke="#444" stroke-width="0.9"/>
<text x="387.30" y="282.32" font-size="6.3" font-weight="bold" fill="#333" text-anchor="end">0.5</text>
<path d="M387.60 252.78H390.10" stroke="#444" stroke-width="0.9"/>
<text x="387.30" y="254.98" font-size="6.3" font-weight="bold" fill="#333" text-anchor="end">1.0</text>
<path d="M387.60 225.45H390.10" stroke="#444" stroke-width="0.9"/>
<text x="387.30" y="227.65" font-size="6.3" font-weight="bold" fill="#333" text-anchor="end">1.5</text>
<text x="0" y="0" font-size="5.7" fill="#333" stroke="#333" stroke-width="0.15" text-anchor="middle" transform="translate(375.10 267.15) rotate(-90)">Relative mRNA expression</text>
<text x="618.50" y="231.35" font-size="6.9" fill="#222" stroke="#222" stroke-width="0.15" text-anchor="middle">FOSL2</text>
<rect x="567.50" y="243.09" width="18.70" height="64.76" fill="#000000"/>
<path d="M576.85 243.09V234.35M572.25 234.35H581.45" stroke="#333" stroke-width="1.1" fill="none"/>
<text x="576.85" y="315.85" font-size="5.9" fill="#222" stroke="#222" stroke-width="0.15" text-anchor="middle">Model</text>
<path d="M576.85 307.85V309.85" stroke="#444" stroke-width="0.8"/>
<rect x="595.90" y="262.77" width="18.70" height="45.08" fill="#a3a2a7"/>
<path d="M605.25 262.77V251.29M600.65 251.29H609.85" stroke="#333" stroke-width="1.1" fill="none"/>
<ellipse cx="605.25" cy="246.39" rx="0.85" ry="1.05" fill="#444"/>
<text x="605.25" y="315.85" font-size="5.9" fill="#222" stroke="#222" stroke-width="0.15" text-anchor="middle">SH</text>
<text x="605.25" y="322.05" font-size="5.6" fill="#222" stroke="#222" stroke-width="0.15" text-anchor="middle">10μmol/L</text>
<path d="M605.25 307.85V309.85" stroke="#444" stroke-width="0.8"/>
<rect x="624.30" y="280.27" width="18.70" height="27.58" fill="#7a7a7a"/>
<path d="M633.65 280.27V276.44M629.05 276.44H638.25" stroke="#333" stroke-width="1.1" fill="none"/>
<ellipse cx="632.15" cy="271.54" rx="0.85" ry="1.05" fill="#444"/>
<ellipse cx="635.15" cy="271.54" rx="0.85" ry="1.05" fill="#444"/>
<text x="633.65" y="315.85" font-size="5.9" fill="#222" stroke="#222" stroke-width="0.15" text-anchor="middle">SH</text>
<text x="633.65" y="322.05" font-size="5.6" fill="#222" stroke="#222" stroke-width="0.15" text-anchor="middle">15μmol/L</text>
<path d="M633.65 307.85V309.85" stroke="#444" stroke-width="0.8"/>
<rect x="652.70" y="289.56" width="18.70" height="18.29" fill="#d6d6d6"/>
<path d="M662.05 289.56V285.19M657.45 285.19H666.65" stroke="#333" stroke-width="1.1" fill="none"/>
<ellipse cx="659.05" cy="280.29" rx="0.85" ry="1.05" fill="#444"/>
<ellipse cx="662.05" cy="280.29" rx="0.85" ry="1.05" fill="#444"/>
<ellipse cx="665.05" cy="280.29" rx="0.85" ry="1.05" fill="#444"/>
<text x="662.05" y="315.85" font-size="5.9" fill="#222" stroke="#222" stroke-width="0.15" text-anchor="middle">SH</text>
<text x="662.05" y="322.05" font-size="5.6" fill="#222" stroke="#222" stroke-width="0.15" text-anchor="middle">20μmol/L</text>
<path d="M662.05 307.85V309.85" stroke="#444" stroke-width="0.8"/>
<path d="M558.00 225.85V307.85H681.00" stroke="#444" stroke-width="1.1" fill="none"/>
<path d="M555.50 307.85H558.00" stroke="#444" stroke-width="0.9"/>
<text x="555.20" y="310.05" font-size="6.3" font-weight="bold" fill="#333" text-anchor="end">0.0</text>
<path d="M555.50 280.52H558.00" stroke="#444" stroke-width="0.9"/>
<text x="555.20" y="282.72" font-size="6.3" font-weight="bold" fill="#333" text-anchor="end">0.5</text>
<path d="M555.50 253.18H558.00" stroke="#444" stroke-width="0.9"/>
<text x="555.20" y="255.38" font-size="6.3" font-weight="bold" fill="#333" text-anchor="end">1.0</text>
<path d="M555.50 225.85H558.00" stroke="#444" stroke-width="0.9"/>
<text x="555.20" y="228.05" font-size="6.3" font-weight="bold" fill="#333" text-anchor="end">1.5</text>
<text x="0" y="0" font-size="5.7" fill="#333" stroke="#333" stroke-width="0.15" text-anchor="middle" transform="translate(543.00 267.55) rotate(-90)">Relative mRNA expression</text>
<text x="450.70" y="362.95" font-size="6.9" fill="#222" stroke="#222" stroke-width="0.15" text-anchor="middle">CDH2</text>
<rect x="399.70" y="377.53" width="18.70" height="61.92" fill="#000000"/>
<path d="M409.05 377.53V370.97M404.45 370.97H413.65" stroke="#333" stroke-width="1.1" fill="none"/>
<text x="409.05" y="447.45" font-size="5.9" fill="#222" stroke="#222" stroke-width="0.15" text-anchor="middle">Model</text>
<path d="M409.05 439.45V441.45" stroke="#444" stroke-width="0.8"/>
<rect x="428.10" y="396.66" width="18.70" height="42.79" fill="#a3a2a7"/>
<path d="M437.45 396.66V385.18M432.85 385.18H442.05" stroke="#333" stroke-width="1.1" fill="none"/>
<text x="437.45" y="447.45" font-size="5.9" fill="#222" stroke="#222" stroke-width="0.15" text-anchor="middle">SH</text>
<text x="437.45" y="453.65" font-size="5.6" fill="#222" stroke="#222" stroke-width="0.15" text-anchor="middle">10μmol/L</text>
<path d="M437.45 439.45V441.45" stroke="#444" stroke-width="0.8"/>
<rect x="456.50" y="410.33" width="18.70" height="29.12" fill="#7a7a7a"/>
<path d="M465.85 410.33V402.67M461.25 402.67H470.45" stroke="#333" stroke-width="1.1" fill="none"/>
<ellipse cx="464.35" cy="397.77" rx="0.85" ry="1.05" fill="#444"/>
<ellipse cx="467.35" cy="397.77" rx="0.85" ry="1.05" fill="#444"/>
<text x="465.85" y="447.45" font-size="5.9" fill="#222" stroke="#222" stroke-width="0.15" text-anchor="middle">SH</text>
<text x="465.85" y="453.65" font-size="5.6" fill="#222" stroke="#222" stroke-width="0.15" text-anchor="middle">15μmol/L</text>
<path d="M465.85 439.45V441.45" stroke="#444" stroke-width="0.8"/>
<rect x="484.90" y="413.06" width="18.70" height="26.39" fill="#d6d6d6"/>
<path d="M494.25 413.06V408.14M489.65 408.14H498.85" stroke="#333" stroke-width="1.1" fill="none"/>
<ellipse cx="492.75" cy="403.24" rx="0.85" ry="1.05" fill="#444"/>
<ellipse cx="495.75" cy="403.24" rx="0.85" ry="1.05" fill="#444"/>
<text x="494.25" y="447.45" font-size="5.9" fill="#222" stroke="#222" stroke-width="0.15" text-anchor="middle">SH</text>
<text x="494.25" y="453.65" font-size="5.6" fill="#222" stroke="#222" stroke-width="0.15" text-anchor="middle">20μmol/L</text>
<path d="M494.25 439.45V441.45" stroke="#444" stroke-width="0.8"/>
<path d="M390.20 357.45V439.45H513.20" stroke="#444" stroke-width="1.1" fill="none"/>
<path d="M387.70 439.45H390.20" stroke="#444" stroke-width="0.9"/>
<text x="387.40" y="441.65" font-size="6.3" font-weight="bold" fill="#333" text-anchor="end">0.0</text>
<path d="M387.70 412.12H390.20" stroke="#444" stroke-width="0.9"/>
<text x="387.40" y="414.32" font-size="6.3" font-weight="bold" fill="#333" text-anchor="end">0.5</text>
<path d="M387.70 384.78H390.20" stroke="#444" stroke-width="0.9"/>
<text x="387.40" y="386.98" font-size="6.3" font-weight="bold" fill="#333" text-anchor="end">1.0</text>
<path d="M387.70 357.45H390.20" stroke="#444" stroke-width="0.9"/>
<text x="387.40" y="359.65" font-size="6.3" font-weight="bold" fill="#333" text-anchor="end">1.5</text>
<text x="0" y="0" font-size="5.7" fill="#333" stroke="#333" stroke-width="0.15" text-anchor="middle" transform="translate(375.20 399.15) rotate(-90)">Relative mRNA expression</text>
<text x="618.40" y="363.45" font-size="6.9" fill="#222" stroke="#222" stroke-width="0.15" text-anchor="middle">CDH11</text>
<rect x="567.40" y="376.33" width="18.70" height="63.62" fill="#000000"/>
<path d="M576.75 376.33V368.13M572.15 368.13H581.35" stroke="#333" stroke-width="1.1" fill="none"/>
<text x="576.75" y="447.95" font-size="5.9" fill="#222" stroke="#222" stroke-width="0.15" text-anchor="middle">Model</text>
<path d="M576.75 439.95V441.95" stroke="#444" stroke-width="0.8"/>
<rect x="595.80" y="390.55" width="18.70" height="49.40" fill="#a3a2a7"/>
<path d="M605.15 390.55V377.43M600.55 377.43H609.75" stroke="#333" stroke-width="1.1" fill="none"/>
<text x="605.15" y="447.95" font-size="5.9" fill="#222" stroke="#222" stroke-width="0.15" text-anchor="middle">SH</text>
<text x="605.15" y="454.15" font-size="5.6" fill="#222" stroke="#222" stroke-width="0.15" text-anchor="middle">10μmol/L</text>
<path d="M605.15 439.95V441.95" stroke="#444" stroke-width="0.8"/>
<rect x="624.20" y="402.03" width="18.70" height="37.92" fill="#7a7a7a"/>
<path d="M633.55 402.03V389.45M628.95 389.45H638.15" stroke="#333" stroke-width="1.1" fill="none"/>
<ellipse cx="633.55" cy="384.55" rx="0.85" ry="1.05" fill="#444"/>
<text x="633.55" y="447.95" font-size="5.9" fill="#222" stroke="#222" stroke-width="0.15" text-anchor="middle">SH</text>
<text x="633.55" y="454.15" font-size="5.6" fill="#222" stroke="#222" stroke-width="0.15" text-anchor="middle">15μmol/L</text>
<path d="M633.55 439.95V441.95" stroke="#444" stroke-width="0.8"/>
<rect x="652.60" y="414.05" width="18.70" height="25.90" fill="#d6d6d6"/>
<path d="M661.95 414.05V411.32M657.35 411.32H666.55" stroke="#333" stroke-width="1.1" fill="none"/>
<ellipse cx="660.45" cy="406.42" rx="0.85" ry="1.05" fill="#444"/>
<ellipse cx="663.45" cy="406.42" rx="0.85" ry="1.05" fill="#444"/>
<text x="661.95" y="447.95" font-size="5.9" fill="#222" stroke="#222" stroke-width="0.15" text-anchor="middle">SH</text>
<text x="661.95" y="454.15" font-size="5.6" fill="#222" stroke="#222" stroke-width="0.15" text-anchor="middle">20μmol/L</text>
<path d="M661.95 439.95V441.95" stroke="#444" stroke-width="0.8"/>
<path d="M557.90 357.95V439.95H680.90" stroke="#444" stroke-width="1.1" fill="none"/>
<path d="M555.40 439.95H557.90" stroke="#444" stroke-width="0.9"/>
<text x="555.10" y="442.15" font-size="6.3" font-weight="bold" fill="#333" text-anchor="end">0.0</text>
<path d="M555.40 412.62H557.90" stroke="#444" stroke-width="0.9"/>
<text x="555.10" y="414.82" font-size="6.3" font-weight="bold" fill="#333" text-anchor="end">0.5</text>
<path d="M555.40 385.28H557.90" stroke="#444" stroke-width="0.9"/>
<text x="555.10" y="387.48" font-size="6.3" font-weight="bold" fill="#333" text-anchor="end">1.0</text>
<path d="M555.40 357.95H557.90" stroke="#444" stroke-width="0.9"/>
<text x="555.10" y="360.15" font-size="6.3" font-weight="bold" fill="#333" text-anchor="end">1.5</text>
<text x="0" y="0" font-size="5.7" fill="#333" stroke="#333" stroke-width="0.15" text-anchor="middle" transform="translate(542.90 399.65) rotate(-90)">Relative mRNA expression</text>
<text x="450.40" y="472.50" font-size="6.9" fill="#222" stroke="#222" stroke-width="0.15" text-anchor="middle">SMAD2</text>
<rect x="399.40" y="484.05" width="18.70" height="64.95" fill="#000000"/>
<path d="M408.75 484.05V473.66M404.15 473.66H413.35" stroke="#333" stroke-width="1.1" fill="none"/>
<text x="408.75" y="557.00" font-size="5.9" fill="#222" stroke="#222" stroke-width="0.15" text-anchor="middle">Model</text>
<path d="M408.75 549.00V551.00" stroke="#444" stroke-width="0.8"/>
<rect x="427.80" y="505.37" width="18.70" height="43.63" fill="#a3a2a7"/>
<path d="M437.15 505.37V494.98M432.55 494.98H441.75" stroke="#333" stroke-width="1.1" fill="none"/>
<ellipse cx="437.15" cy="490.08" rx="0.85" ry="1.05" fill="#444"/>
<text x="437.15" y="557.00" font-size="5.9" fill="#222" stroke="#222" stroke-width="0.15" text-anchor="middle">SH</text>
<text x="437.15" y="563.20" font-size="5.6" fill="#222" stroke="#222" stroke-width="0.15" text-anchor="middle">10μmol/L</text>
<path d="M437.15 549.00V551.00" stroke="#444" stroke-width="0.8"/>
<rect x="456.20" y="519.58" width="18.70" height="29.42" fill="#7a7a7a"/>
<path d="M465.55 519.58V515.75M460.95 515.75H470.15" stroke="#333" stroke-width="1.1" fill="none"/>
<ellipse cx="464.05" cy="510.85" rx="0.85" ry="1.05" fill="#444"/>
<ellipse cx="467.05" cy="510.85" rx="0.85" ry="1.05" fill="#444"/>
<text x="465.55" y="557.00" font-size="5.9" fill="#222" stroke="#222" stroke-width="0.15" text-anchor="middle">SH</text>
<text x="465.55" y="563.20" font-size="5.6" fill="#222" stroke="#222" stroke-width="0.15" text-anchor="middle">15μmol/L</text>
<path d="M465.55 549.00V551.00" stroke="#444" stroke-width="0.8"/>
<rect x="484.60" y="534.34" width="18.70" height="14.66" fill="#d6d6d6"/>
<path d="M493.95 534.34V527.78M489.35 527.78H498.55" stroke="#333" stroke-width="1.1" fill="none"/>
<ellipse cx="490.95" cy="522.88" rx="0.85" ry="1.05" fill="#444"/>
<ellipse cx="493.95" cy="522.88" rx="0.85" ry="1.05" fill="#444"/>
<ellipse cx="496.95" cy="522.88" rx="0.85" ry="1.05" fill="#444"/>
<text x="493.95" y="557.00" font-size="5.9" fill="#222" stroke="#222" stroke-width="0.15" text-anchor="middle">SH</text>
<text x="493.95" y="563.20" font-size="5.6" fill="#222" stroke="#222" stroke-width="0.15" text-anchor="middle">20μmol/L</text>
<path d="M493.95 549.00V551.00" stroke="#444" stroke-width="0.8"/>
<path d="M389.90 467.00V549.00H512.90" stroke="#444" stroke-width="1.1" fill="none"/>
<path d="M387.40 549.00H389.90" stroke="#444" stroke-width="0.9"/>
<text x="387.10" y="551.20" font-size="6.3" font-weight="bold" fill="#333" text-anchor="end">0.0</text>
<path d="M387.40 521.67H389.90" stroke="#444" stroke-width="0.9"/>
<text x="387.10" y="523.87" font-size="6.3" font-weight="bold" fill="#333" text-anchor="end">0.5</text>
<path d="M387.40 494.33H389.90" stroke="#444" stroke-width="0.9"/>
<text x="387.10" y="496.53" font-size="6.3" font-weight="bold" fill="#333" text-anchor="end">1.0</text>
<path d="M387.40 467.00H389.90" stroke="#444" stroke-width="0.9"/>
<text x="387.10" y="469.20" font-size="6.3" font-weight="bold" fill="#333" text-anchor="end">1.5</text>
<text x="0" y="0" font-size="5.7" fill="#333" stroke="#333" stroke-width="0.15" text-anchor="middle" transform="translate(374.90 508.70) rotate(-90)">Relative mRNA expression</text>
<text x="618.50" y="474.20" font-size="6.9" fill="#222" stroke="#222" stroke-width="0.15" text-anchor="middle">SMAD3</text>
<rect x="567.50" y="490.41" width="18.70" height="60.29" fill="#000000"/>
<path d="M576.85 490.41V482.21M572.25 482.21H581.45" stroke="#333" stroke-width="1.1" fill="none"/>
<text x="576.85" y="558.70" font-size="5.9" fill="#222" stroke="#222" stroke-width="0.15" text-anchor="middle">Model</text>
<path d="M576.85 550.70V552.70" stroke="#444" stroke-width="0.8"/>
<rect x="595.90" y="504.63" width="18.70" height="46.07" fill="#a3a2a7"/>
<path d="M605.25 504.63V494.79M600.65 494.79H609.85" stroke="#333" stroke-width="1.1" fill="none"/>
<text x="605.25" y="558.70" font-size="5.9" fill="#222" stroke="#222" stroke-width="0.15" text-anchor="middle">SH</text>
<text x="605.25" y="564.90" font-size="5.6" fill="#222" stroke="#222" stroke-width="0.15" text-anchor="middle">10μmol/L</text>
<path d="M605.25 550.70V552.70" stroke="#444" stroke-width="0.8"/>
<rect x="624.30" y="527.59" width="18.70" height="23.11" fill="#7a7a7a"/>
<path d="M633.65 527.59V521.57M629.05 521.57H638.25" stroke="#333" stroke-width="1.1" fill="none"/>
<ellipse cx="630.65" cy="516.67" rx="0.85" ry="1.05" fill="#444"/>
<ellipse cx="633.65" cy="516.67" rx="0.85" ry="1.05" fill="#444"/>
<ellipse cx="636.65" cy="516.67" rx="0.85" ry="1.05" fill="#444"/>
<text x="633.65" y="558.70" font-size="5.9" fill="#222" stroke="#222" stroke-width="0.15" text-anchor="middle">SH</text>
<text x="633.65" y="564.90" font-size="5.6" fill="#222" stroke="#222" stroke-width="0.15" text-anchor="middle">15μmol/L</text>
<path d="M633.65 550.70V552.70" stroke="#444" stroke-width="0.8"/>
<rect x="652.70" y="533.60" width="18.70" height="17.10" fill="#d6d6d6"/>
<path d="M662.05 533.60V528.13M657.45 528.13H666.65" stroke="#333" stroke-width="1.1" fill="none"/>
<ellipse cx="659.05" cy="523.23" rx="0.85" ry="1.05" fill="#444"/>
<ellipse cx="662.05" cy="523.23" rx="0.85" ry="1.05" fill="#444"/>
<ellipse cx="665.05" cy="523.23" rx="0.85" ry="1.05" fill="#444"/>
<text x="662.05" y="558.70" font-size="5.9" fill="#222" stroke="#222" stroke-width="0.15" text-anchor="middle">SH</text>
<text x="662.05" y="564.90" font-size="5.6" fill="#222" stroke="#222" stroke-width="0.15" text-anchor="middle">20μmol/L</text>
<path d="M662.05 550.70V552.70" stroke="#444" stroke-width="0.8"/>
<path d="M558.00 468.70V550.70H681.00" stroke="#444" stroke-width="1.1" fill="none"/>
<path d="M555.50 550.70H558.00" stroke="#444" stroke-width="0.9"/>
<text x="555.20" y="552.90" font-size="6.3" font-weight="bold" fill="#333" text-anchor="end">0.0</text>
<path d="M555.50 523.37H558.00" stroke="#444" stroke-width="0.9"/>
<text x="555.20" y="525.57" font-size="6.3" font-weight="bold" fill="#333" text-anchor="end">0.5</text>
<path d="M555.50 496.03H558.00" stroke="#444" stroke-width="0.9"/>
<text x="555.20" y="498.23" font-size="6.3" font-weight="bold" fill="#333" text-anchor="end">1.0</text>
<path d="M555.50 468.70H558.00" stroke="#444" stroke-width="0.9"/>
<text x="555.20" y="470.90" font-size="6.3" font-weight="bold" fill="#333" text-anchor="end">1.5</text>
<text x="0" y="0" font-size="5.7" fill="#333" stroke="#333" stroke-width="0.15" text-anchor="middle" transform="translate(543.00 510.40) rotate(-90)">Relative mRNA expression</text>
<text x="450.50" y="580.50" font-size="6.9" fill="#222" stroke="#222" stroke-width="0.15" text-anchor="middle">WNT9A</text>
<rect x="399.50" y="594.93" width="18.70" height="62.07" fill="#000000"/>
<path d="M408.85 594.93V587.82M404.25 587.82H413.45" stroke="#333" stroke-width="1.1" fill="none"/>
<text x="408.85" y="665.00" font-size="5.9" fill="#222" stroke="#222" stroke-width="0.15" text-anchor="middle">Model</text>
<path d="M408.85 657.00V659.00" stroke="#444" stroke-width="0.8"/>
<rect x="427.90" y="607.50" width="18.70" height="49.50" fill="#a3a2a7"/>
<path d="M437.25 607.50V596.57M432.65 596.57H441.85" stroke="#333" stroke-width="1.1" fill="none"/>
<text x="437.25" y="665.00" font-size="5.9" fill="#222" stroke="#222" stroke-width="0.15" text-anchor="middle">SH</text>
<text x="437.25" y="671.20" font-size="5.6" fill="#222" stroke="#222" stroke-width="0.15" text-anchor="middle">10μmol/L</text>
<path d="M437.25 657.00V659.00" stroke="#444" stroke-width="0.8"/>
<rect x="456.30" y="628.00" width="18.70" height="29.00" fill="#7a7a7a"/>
<path d="M465.65 628.00V617.34M461.05 617.34H470.25" stroke="#333" stroke-width="1.1" fill="none"/>
<ellipse cx="464.15" cy="612.44" rx="0.85" ry="1.05" fill="#444"/>
<ellipse cx="467.15" cy="612.44" rx="0.85" ry="1.05" fill="#444"/>
<text x="465.65" y="665.00" font-size="5.9" fill="#222" stroke="#222" stroke-width="0.15" text-anchor="middle">SH</text>
<text x="465.65" y="671.20" font-size="5.6" fill="#222" stroke="#222" stroke-width="0.15" text-anchor="middle">15μmol/L</text>
<path d="M465.65 657.00V659.00" stroke="#444" stroke-width="0.8"/>
<rect x="484.70" y="639.75" width="18.70" height="17.25" fill="#d6d6d6"/>
<path d="M494.05 639.75V633.19M489.45 633.19H498.65" stroke="#333" stroke-width="1.1" fill="none"/>
<ellipse cx="491.05" cy="628.29" rx="0.85" ry="1.05" fill="#444"/>
<ellipse cx="494.05" cy="628.29" rx="0.85" ry="1.05" fill="#444"/>
<ellipse cx="497.05" cy="628.29" rx="0.85" ry="1.05" fill="#444"/>
<text x="494.05" y="665.00" font-size="5.9" fill="#222" stroke="#222" stroke-width="0.15" text-anchor="middle">SH</text>
<text x="494.05" y="671.20" font-size="5.6" fill="#222" stroke="#222" stroke-width="0.15" text-anchor="middle">20μmol/L</text>
<path d="M494.05 657.00V659.00" stroke="#444" stroke-width="0.8"/>
<path d="M390.00 575.00V657.00H513.00" stroke="#444" stroke-width="1.1" fill="none"/>
<path d="M387.50 657.00H390.00" stroke="#444" stroke-width="0.9"/>
<text x="387.20" y="659.20" font-size="6.3" font-weight="bold" fill="#333" text-anchor="end">0.0</text>
<path d="M387.50 629.67H390.00" stroke="#444" stroke-width="0.9"/>
<text x="387.20" y="631.87" font-size="6.3" font-weight="bold" fill="#333" text-anchor="end">0.5</text>
<path d="M387.50 602.33H390.00" stroke="#444" stroke-width="0.9"/>
<text x="387.20" y="604.53" font-size="6.3" font-weight="bold" fill="#333" text-anchor="end">1.0</text>
<path d="M387.50 575.00H390.00" stroke="#444" stroke-width="0.9"/>
<text x="387.20" y="577.20" font-size="6.3" font-weight="bold" fill="#333" text-anchor="end">1.5</text>
<text x="0" y="0" font-size="5.7" fill="#333" stroke="#333" stroke-width="0.15" text-anchor="middle" transform="translate(375.00 616.70) rotate(-90)">Relative mRNA expression</text>
<text x="619.20" y="580.60" font-size="6.9" fill="#222" stroke="#222" stroke-width="0.15" text-anchor="middle">SP-1</text>
<rect x="568.20" y="597.54" width="18.70" height="59.56" fill="#000000"/>
<path d="M577.55 597.54V589.61M572.95 589.61H582.15" stroke="#333" stroke-width="1.1" fill="none"/>
<text x="577.55" y="665.10" font-size="5.9" fill="#222" stroke="#222" stroke-width="0.15" text-anchor="middle">Model</text>
<path d="M577.55 657.10V659.10" stroke="#444" stroke-width="0.8"/>
<rect x="596.60" y="606.56" width="18.70" height="50.54" fill="#a3a2a7"/>
<path d="M605.95 606.56V596.17M601.35 596.17H610.55" stroke="#333" stroke-width="1.1" fill="none"/>
<text x="605.95" y="665.10" font-size="5.9" fill="#222" stroke="#222" stroke-width="0.15" text-anchor="middle">SH</text>
<text x="605.95" y="671.30" font-size="5.6" fill="#222" stroke="#222" stroke-width="0.15" text-anchor="middle">10μmol/L</text>
<path d="M605.95 657.10V659.10" stroke="#444" stroke-width="0.8"/>
<rect x="625.00" y="622.96" width="18.70" height="34.14" fill="#7a7a7a"/>
<path d="M634.35 622.96V613.67M629.75 613.67H638.95" stroke="#333" stroke-width="1.1" fill="none"/>
<ellipse cx="634.35" cy="608.77" rx="0.85" ry="1.05" fill="#444"/>
<text x="634.35" y="665.10" font-size="5.9" fill="#222" stroke="#222" stroke-width="0.15" text-anchor="middle">SH</text>
<text x="634.35" y="671.30" font-size="5.6" fill="#222" stroke="#222" stroke-width="0.15" text-anchor="middle">15μmol/L</text>
<path d="M634.35 657.10V659.10" stroke="#444" stroke-width="0.8"/>
<rect x="653.40" y="635.53" width="18.70" height="21.57" fill="#d6d6d6"/>
<path d="M662.75 635.53V631.71M658.15 631.71H667.35" stroke="#333" stroke-width="1.1" fill="none"/>
<ellipse cx="661.25" cy="626.81" rx="0.85" ry="1.05" fill="#444"/>
<ellipse cx="664.25" cy="626.81" rx="0.85" ry="1.05" fill="#444"/>
<text x="662.75" y="665.10" font-size="5.9" fill="#222" stroke="#222" stroke-width="0.15" text-anchor="middle">SH</text>
<text x="662.75" y="671.30" font-size="5.6" fill="#222" stroke="#222" stroke-width="0.15" text-anchor="middle">20μmol/L</text>
<path d="M662.75 657.10V659.10" stroke="#444" stroke-width="0.8"/>
<path d="M558.70 575.10V657.10H681.70" stroke="#444" stroke-width="1.1" fill="none"/>
<path d="M556.20 657.10H558.70" stroke="#444" stroke-width="0.9"/>
<text x="555.90" y="659.30" font-size="6.3" font-weight="bold" fill="#333" text-anchor="end">0.0</text>
<path d="M556.20 629.77H558.70" stroke="#444" stroke-width="0.9"/>
<text x="555.90" y="631.97" font-size="6.3" font-weight="bold" fill="#333" text-anchor="end">0.5</text>
<path d="M556.20 602.43H558.70" stroke="#444" stroke-width="0.9"/>
<text x="555.90" y="604.63" font-size="6.3" font-weight="bold" fill="#333" text-anchor="end">1.0</text>
<path d="M556.20 575.10H558.70" stroke="#444" stroke-width="0.9"/>
<text x="555.90" y="577.30" font-size="6.3" font-weight="bold" fill="#333" text-anchor="end">1.5</text>
<text x="0" y="0" font-size="5.7" fill="#333" stroke="#333" stroke-width="0.15" text-anchor="middle" transform="translate(543.70 616.80) rotate(-90)">Relative mRNA expression</text>
<path d="M5.30 2.00Q-1.00 9.60 5.30 17.20" stroke="#333" stroke-width="1.05" fill="none"/>
<path d="M18.20 2.00Q24.50 9.60 18.20 17.20" stroke="#333" stroke-width="1.05" fill="none"/>
<text x="0" y="0" font-size="14.6" fill="#222" text-anchor="middle" transform="translate(11.55 14.30) scale(0.87 1)">A</text>
<path d="M344.80 2.00Q338.50 9.60 344.80 17.20" stroke="#333" stroke-width="1.05" fill="none"/>
<path d="M357.30 2.00Q363.60 9.60 357.30 17.20" stroke="#333" stroke-width="1.05" fill="none"/>
<text x="0" y="0" font-size="14.6" fill="#222" text-anchor="middle" transform="translate(351.45 14.30) scale(0.87 1)">B</text>
<path d="M10.70 341.40Q4.40 349.00 10.70 356.60" stroke="#333" stroke-width="1.05" fill="none"/>
<path d="M23.20 341.40Q29.50 349.00 23.20 356.60" stroke="#333" stroke-width="1.05" fill="none"/>
<text x="0" y="0" font-size="14.6" fill="#222" text-anchor="middle" transform="translate(17.05 353.70) scale(0.87 1)">C</text>
<path d="M348.30 341.50Q342.00 349.10 348.30 356.70" stroke="#333" stroke-width="1.05" fill="none"/>
<path d="M361.70 341.50Q368.00 349.10 361.70 356.70" stroke="#333" stroke-width="1.05" fill="none"/>
<text x="0" y="0" font-size="14.6" fill="#222" text-anchor="middle" transform="translate(355.15 353.80) scale(0.87 1)">D</text>
</svg>
</body></html>
